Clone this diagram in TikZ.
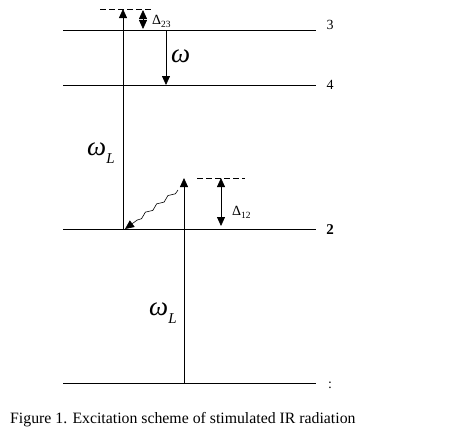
\documentclass[tikz,border=0pt]{standalone}
\usepackage{fontspec}
\setmainfont{Liberation Serif}
\usetikzlibrary{arrows.meta,decorations.pathmorphing}
\newcommand{\omL}{{\itshape ω}\raisebox{-0.32em}{\fontsize{15}{15}\selectfont\itshape L}}
\newcommand{\dlt}[1]{Δ\raisebox{-0.25em}{\fontsize{9.5}{10}\selectfont #1}}
\begin{document}
\begin{tikzpicture}[x=1pt,y=-1pt,
  level/.style={line width=0.8pt},
  arr/.style={line width=0.8pt,-{Triangle[length=9pt,width=8pt]}},
  darr/.style={line width=0.8pt,{Triangle[length=9pt,width=8pt]}-{Triangle[length=9pt,width=8pt]}},
  dashline/.style={line width=0.8pt,dash pattern=on 6pt off 3pt},
  lab/.style={inner sep=0pt,font=\fontsize{14}{16}\selectfont},
  dlab/.style={inner sep=0pt,font=\fontsize{14}{16}\selectfont},
  captext/.style={inner sep=0pt,font=\fontsize{15.8}{18}\selectfont},
  big/.style={inner sep=0pt,font=\fontsize{27}{30}\selectfont}]
\useasboundingbox (0,0) rectangle (450,445);
% levels
\coordinate (l3a) at (63,30); \coordinate (l3b) at (316,30);
\coordinate (l4a) at (63,85); \coordinate (l4b) at (316,85);
\coordinate (l2a) at (63,229); \coordinate (l2b) at (316,229);
\coordinate (l1a) at (63,383); \coordinate (l1b) at (316,383);
\draw[level] (l3a) -- (l3b);
\draw[level] (l4a) -- (l4b);
\draw[level] (l2a) -- (l2b);
\draw[level] (l1a) -- (l1b);
\node[lab] (n3) at (330,25) {3};
\node[lab] (n4) at (330,85) {4};
\node[lab,font=\fontsize{15}{16}\selectfont] (n2) at (330,230) {\textbf{2}};
\node[lab] (n1) at (330,385) {:};
% virtual levels
\coordinate (v3a) at (100,9); \coordinate (v3b) at (153,9);
\coordinate (v2a) at (197,178); \coordinate (v2b) at (245,178);
\draw[dashline] (v3a) -- (v3b);
\draw[dashline] (v2a) -- (v2b);
% upper pump arrow
\coordinate (p2s) at (123,229); \coordinate (p2e) at (123,9);
\draw[arr] (p2s) -- (p2e);
% delta 23
\coordinate (d23a) at (143,10); \coordinate (d23b) at (143,29);
\draw[darr] (d23a) -- (d23b);
\node[dlab,anchor=base west] (D23) at (152,24) {\dlt{23}};
% omega arrow
\coordinate (ws) at (166,30); \coordinate (we) at (166,85);
\draw[arr] (ws) -- (we);
\node[big,anchor=base west] (w) at (171,62) {\itshape ω};
% omega_L labels
\node[big,anchor=base west] (wL1) at (87,155) {\omL};
\node[big,anchor=base west] (wL2) at (149,315) {\omL};
% lower pump arrow
\coordinate (p1s) at (184,383); \coordinate (p1e) at (184,178);
\draw[arr] (p1s) -- (p1e);
% delta 12
\coordinate (d12a) at (221,178); \coordinate (d12b) at (221,226);
\draw[darr] (d12a) -- (d12b);
\node[dlab,anchor=base west] (D12) at (232,215) {\dlt{12}};
% wavy emission
\coordinate (ws2) at (178,190); \coordinate (we2) at (125,229);
\draw[line width=0.6pt,-{Triangle[length=9pt,width=8pt]},decorate,decoration={snake,amplitude=1.5pt,segment length=14pt,post length=10pt}] (ws2) -- (we2);
% caption
\node[captext,anchor=base west] (capt) at (10,423) {Figure 1. Excitation scheme of stimulated IR radiation};
\end{tikzpicture}
\end{document}
